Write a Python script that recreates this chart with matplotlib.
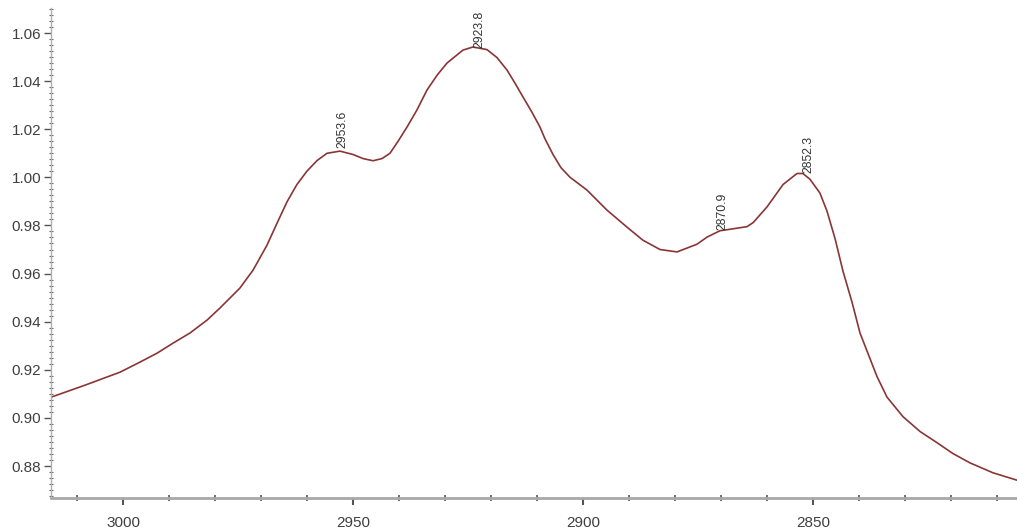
import matplotlib
matplotlib.use("Agg")
import matplotlib.pyplot as plt
from matplotlib.ticker import MultipleLocator, FormatStrFormatter

# Wavenumber (cm-1) and absorbance
wavenumber = [3015.65, 3008.26, 3000.65, 2996.30, 2992.6, 2989.1, 2985.43, 2981.7,
              2978.91, 2974.57, 2971.7, 2968.70, 2966.5, 2964.35, 2962.2, 2960.00,
              2957.8, 2955.65, 2952.83, 2950.00, 2947.8, 2945.65, 2943.7, 2941.96,
              2940.2, 2938.26, 2936.1, 2933.91, 2931.7, 2929.57, 2926.09, 2923.91,
              2920.87, 2918.7, 2916.52, 2914.8, 2913.04, 2911.1, 2909.35, 2908.26,
              2906.52, 2904.78, 2902.8, 2899.13, 2894.8, 2890.43, 2887.0, 2883.26,
              2879.57, 2875.22, 2873.0, 2870.22, 2867.4, 2864.35, 2863.0, 2860.00,
              2856.52, 2853.48, 2852.2, 2850.65, 2848.5, 2846.96, 2845.2, 2843.48,
              2841.5, 2839.78, 2836.09, 2833.9, 2830.43, 2826.7, 2823.04, 2819.6,
              2815.87, 2810.9, 2805.65]
absorbance = [0.9086, 0.9136, 0.9190, 0.9232, 0.9269, 0.9311, 0.9353, 0.9407,
              0.9457, 0.9540, 0.9615, 0.9718, 0.9810, 0.9898, 0.9970, 1.0026,
              1.0070, 1.0100, 1.0109, 1.0095, 1.0078, 1.0069, 1.0078, 1.0100,
              1.0150, 1.0209, 1.0280, 1.0363, 1.0425, 1.0475, 1.0529, 1.0542,
              1.0531, 1.0498, 1.0446, 1.0392, 1.0334, 1.0271, 1.0209, 1.0160,
              1.0095, 1.0040, 1.0000, 0.9947, 0.9864, 0.9793, 0.9739, 0.9700,
              0.9690, 0.9722, 0.9752, 0.9778, 0.9786, 0.9795, 0.9812, 0.9877,
              0.9970, 1.0016, 1.0016, 0.9992, 0.9935, 0.9860, 0.9745, 0.9610,
              0.9480, 0.9353, 0.9172, 0.9086, 0.9005, 0.8943, 0.8897, 0.8852,
              0.8813, 0.8772, 0.8741]

peak_positions = [2953.6, 2923.8, 2870.9, 2852.3]
peak_heights = [1.0122, 1.0538, 0.9781, 1.0018]
peak_labels = ["2953.6", "2923.8", "2870.9", "2852.3"]

fig = plt.figure(figsize=(10.17, 5.29), dpi=100)
ax = fig.add_axes([51 / 1017, 31 / 529, 1 - 51 / 1017, (498 - 8) / 529])

ax.plot(wavenumber, absorbance, color="#8a3535", lw=1.2,
        solid_joinstyle="round", solid_capstyle="round")

for xp, yp, lab in zip(peak_positions, peak_heights, peak_labels):
    ax.text(xp, yp, lab, rotation=90, ha="left", va="bottom",
            fontsize=8.8, color="#333333", family="Liberation Sans")

ax.set_xlim(3015.65, 2805.65)
ax.set_ylim(0.8667, 1.0704)

ax.xaxis.set_major_locator(MultipleLocator(50))
ax.xaxis.set_minor_locator(MultipleLocator(10))
ax.yaxis.set_major_locator(MultipleLocator(0.02))
ax.yaxis.set_minor_locator(MultipleLocator(0.0025))
ax.yaxis.set_major_formatter(FormatStrFormatter("%.2f"))
ax.xaxis.set_major_formatter(FormatStrFormatter("%d"))

for s in ["top", "right"]:
    ax.spines[s].set_visible(False)
ax.spines["bottom"].set_color("#a8a8a8")
ax.spines["bottom"].set_linewidth(2.0)
ax.spines["left"].set_color("#b0b0b0")
ax.spines["left"].set_linewidth(1.0)

ax.tick_params(axis="x", which="major", direction="out", length=5, width=1.5,
               color="#555555", pad=8, labelsize=11, labelcolor="#404040")
ax.tick_params(axis="x", which="minor", direction="inout", length=4, width=1.2,
               color="#555555")
ax.tick_params(axis="y", which="major", direction="out", length=5, width=1.0,
               color="#555555", pad=2, labelsize=11, labelcolor="#404040")
ax.tick_params(axis="y", which="minor", direction="inout", length=2.5, width=0.8,
               color="#666666")
for lab in ax.get_xticklabels() + ax.get_yticklabels():
    lab.set_family("Liberation Sans")

fig.savefig("out.png", dpi=100, facecolor="white")
